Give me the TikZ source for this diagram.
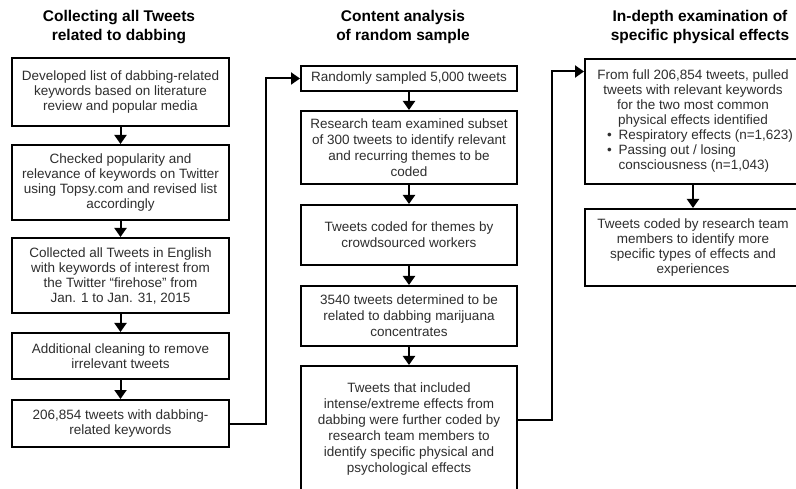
\documentclass[tikz,border=0pt]{standalone}
\usepackage{fontspec}
\setmainfont{Liberation Sans}
\usetikzlibrary{arrows.meta}
\definecolor{txt}{HTML}{2E2E2E}
\tikzset{
  box/.style={draw=black, line width=2pt, rectangle, align=center, inner sep=0pt,
    font=\fontsize{13.5}{15}\selectfont, text=txt},
  midbox/.style={box, font=\fontsize{13.5}{16}\selectfont},
  title/.style={align=center, font=\fontsize{15.5}{19}\selectfont\bfseries, text=black},
  arr/.style={line width=2pt, -{Triangle[width=12pt,length=9pt]}},
  link/.style={line width=2pt, -{Triangle[width=12pt,length=9pt]}},
}
\begin{document}
\begin{tikzpicture}[x=1pt,y=-1pt]
\useasboundingbox[fill=white] (0,0) rectangle (796,489);
% titles
\node[title] (T1) at (119,27) {Collecting all Tweets\\related to dabbing};
\node[title] (T2) at (403,27) {Content analysis\\of random sample};
\node[title] (T3) at (700,27) {In-depth examination of\\specific physical effects};
% left column
\node[box, minimum width=217pt, minimum height=68pt] (L1) at (120.5,92) {Developed list of dabbing-related\\keywords based on literature\\review and popular media};
\node[box, minimum width=217pt, minimum height=75pt] (L2) at (120.5,182.5) {Checked popularity and\\relevance of keywords on Twitter\\using Topsy.com and revised list\\accordingly};
\node[box, minimum width=217pt, minimum height=75pt] (L3) at (120.5,275.5) {Collected all Tweets in English\\with keywords of interest from\\the Twitter ``firehose'' from\\Jan. 1 to Jan. 31, 2015};
\node[box, minimum width=217pt, minimum height=46pt] (L4) at (120.5,356) {Additional cleaning to remove\\irrelevant tweets};
\node[box, minimum width=217pt, minimum height=47pt] (L5) at (120.5,423.5) {206,854 tweets with dabbing-\\related keywords};
% middle column
\node[midbox, minimum width=216pt, minimum height=25pt] (M1) at (409,78.5) {Randomly sampled 5,000 tweets};
\node[midbox, minimum width=216pt, minimum height=73pt] (M2) at (409,147.5) {Research team examined subset\\of 300 tweets to identify relevant\\and recurring themes to be\\coded};
\node[midbox, minimum width=216pt, minimum height=60pt] (M3) at (409,235) {Tweets coded for themes by\\crowdsourced workers};
\node[midbox, minimum width=216pt, minimum height=60pt] (M4) at (409,316) {3540 tweets determined to be\\related to dabbing marijuana\\concentrates};
\node[midbox, minimum width=216pt, minimum height=126pt] (M5) at (409,429) {Tweets that included\\intense/extreme effects from\\dabbing were further coded by\\research team members to\\identify specific physical and\\psychological effects};
% right column
\node[box, minimum width=216pt, minimum height=125pt] (R1) at (693,121.5) {From full 206,854 tweets, pulled\\tweets with relevant keywords\\for the two most common\\physical effects identified\\
\makebox[172pt][l]{\textbullet\hspace{7pt}Respiratory effects (n=1,623)}\\
\makebox[172pt][l]{\textbullet\hspace{7pt}Passing out / losing}\\
\makebox[172pt][l]{\hspace{11.7pt}consciousness (n=1,043)}};
\node[box, minimum width=216pt, minimum height=77pt] (R2) at (693,247.5) {Tweets coded by research team\\members to identify more\\specific types of effects and\\experiences};
% arrows
\draw[arr] (L1) -- (L2);
\draw[arr] (L2) -- (L3);
\draw[arr] (L3) -- (L4);
\draw[arr] (L4) -- (L5);
\draw[arr] (M1) -- (M2);
\draw[arr] (M2) -- (M3);
\draw[arr] (M3) -- (M4);
\draw[arr] (M4.south) -- (M5.north);
\draw[arr] (R1) -- (R2);
\draw[link] (L5.east) -- ++(36,0) |- (M1.west);
\draw[link] ([yshift=9pt]M5.east) -- ++(34,0) |- ([yshift=50pt]R1.west);
\end{tikzpicture}
\end{document}
